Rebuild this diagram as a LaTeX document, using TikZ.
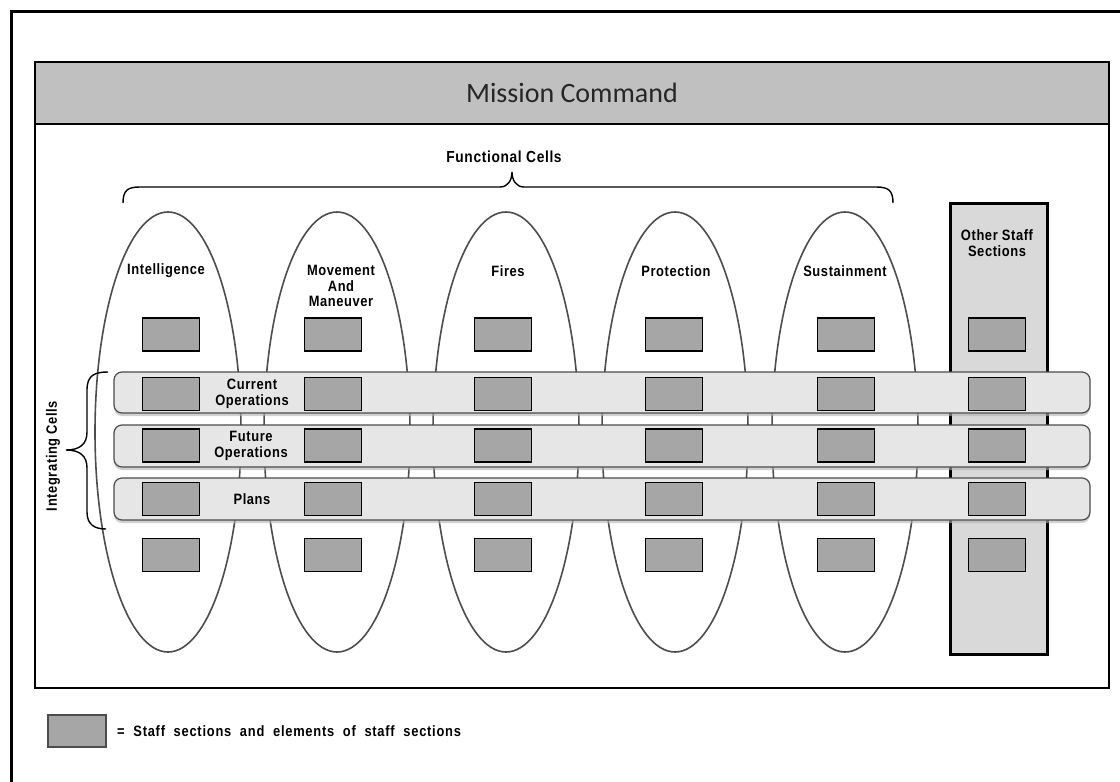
\documentclass[tikz,border=0pt]{standalone}
\usepackage{fontspec}
\setmainfont{Liberation Sans}
\newfontfamily\mcfont{Carlito}
\newfontfamily\lblfont[LetterSpace=4,FakeStretch=0.86]{Liberation Sans}
\newfontfamily\lgfont[LetterSpace=5,WordSpace=2,FakeStretch=0.86]{Liberation Sans}
\usetikzlibrary{shapes.geometric,shadows}
\definecolor{hdrgray}{HTML}{C0C0C0}
\definecolor{boxgray}{HTML}{A6A6A6}
\definecolor{bandgray}{HTML}{E6E6E6}
\definecolor{colgray}{HTML}{D9D9D9}
\definecolor{ellline}{HTML}{4D4D4D}
\tikzset{
  lbl/.style={font=\lblfont\bfseries\fontsize{15}{15.5}\selectfont, align=center, inner sep=0pt},
  staffbox/.style={draw=black, line width=1.3pt, fill=boxgray, minimum width=57pt, minimum height=33pt, inner sep=0pt},
  cellell/.style={draw=ellline, line width=1.6pt, ellipse, minimum width=146pt, minimum height=440pt, inner sep=0pt},
  band/.style={draw=black!70, line width=1.2pt, fill=bandgray, rounded corners=8pt,
    drop shadow={shadow xshift=0pt, shadow yshift=-3pt, fill=black!30, opacity=0.6}},
  bracestyle/.style={draw=black, line width=1.4pt},
}
\begin{document}
\begin{tikzpicture}[x=1pt,y=-1pt]
\useasboundingbox (0,0) rectangle (1120,782);
\clip (0,0) rectangle (1120,782);
\fill[white] (0,0) rectangle (1120,782);
% outer frame
\draw[line width=3pt] (11,11) rectangle (1140,800);
% inner frame and header
\draw[line width=1.8pt, fill=white] (35,62) rectangle (1109,688);
\draw[line width=1.8pt, fill=hdrgray] (35,62) rectangle (1109,124);
\node[font=\mcfont\fontsize{28}{32}\selectfont, text=black!85] (mc) at (572,93) {Mission Command};

% ellipses
\node[cellell] (e1) at (168,432) {};
\node[cellell] (e2) at (337,432) {};
\node[cellell] (e3) at (506,432) {};
\node[cellell] (e4) at (675,432) {};
\node[cellell] (e5) at (845,432) {};
% other staff column
\draw[line width=3pt, fill=colgray] (950,203) rectangle (1047,654);

% labels
\node[lbl] (l1) at (166,271) {Intelligence};
\node[lbl] (l2) at (341,286) {Movement\\And\\Maneuver};
\node[lbl] (l3) at (508,271) {Fires};
\node[lbl] (l4) at (676,271) {Protection};
\node[lbl] (l5) at (845,271) {Sustainment};
\node[lbl] (l6) at (997,243) {Other Staff\\Sections};

% functional cells brace
\node[lbl, font=\lblfont\bfseries\fontsize{16}{16}\selectfont] (fc) at (504,157) {Functional Cells};
\draw[bracestyle] (123,203) .. controls (123,190) and (128,187) .. (140,187) -- (500,187)
  .. controls (508,187) and (512,180) .. (512,172)
  .. controls (512,180) and (516,187) .. (524,187) -- (876,187)
  .. controls (888,187) and (893,190) .. (893,203);

% top and bottom rows of boxes
\foreach \x [count=\i] in {171,333,503,674,846,997}{
  \node[staffbox] (t\i) at (\x,334.5) {};
  \node[staffbox] (b\i) at (\x,555) {};
}

% integrating bands
\draw[band] (114,372) rectangle (1090,413);
\draw[band] (114,425) rectangle (1090,467);
\draw[band] (114,478) rectangle (1090,520);
\foreach \x [count=\i] in {171,333,503,674,846,997}{
  \node[staffbox] (c\i) at (\x,394) {};
  \node[staffbox] (f\i) at (\x,445.5) {};
  \node[staffbox] (p\i) at (\x,499) {};
}
\node[lbl] (cur) at (252,394) {Current\\Operations};
\node[lbl] (fut) at (251,446) {Future\\Operations};
\node[lbl] (pla) at (252,499) {Plans};

% integrating cells brace
\draw[bracestyle] (108,372) .. controls (95,372) and (87,375) .. (87,390) -- (87,432)
  .. controls (87,444) and (80,450) .. (66,450)
  .. controls (80,450) and (87,456) .. (87,468) -- (87,512)
  .. controls (87,525) and (95,529) .. (106,529);
\node[lbl, rotate=90] (ic) at (53,456) {Integrating Cells};

% legend
\node[draw=black!70, line width=1.2pt, fill=boxgray, minimum width=58pt, minimum height=32pt, inner sep=0pt] (lg) at (77,731) {};
\node[anchor=west, inner sep=0pt, font=\lgfont\bfseries\fontsize{15}{15}\selectfont] (lgt) at (117,731) {= Staff sections and elements of staff sections};
\end{tikzpicture}
\end{document}
